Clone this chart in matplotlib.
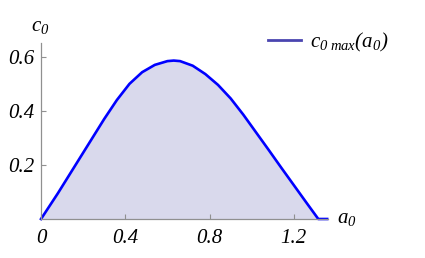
import matplotlib
matplotlib.use('Agg')
import matplotlib.pyplot as plt

# values
a0 = [0, 0.08, 0.16, 0.24, 0.30, 0.36, 0.42, 0.48, 0.54, 0.60, 0.63, 0.66,
      0.72, 0.78, 0.84, 0.90, 0.96, 1.02, 1.08, 1.14, 1.20, 1.26, 1.316, 1.358]
c0 = [0, 0.095, 0.195, 0.295, 0.37, 0.44, 0.50, 0.543, 0.570, 0.584, 0.586, 0.584,
      0.567, 0.536, 0.496, 0.446, 0.386, 0.321, 0.256, 0.19, 0.125, 0.06, 0, 0]
xticks = [0, 0.4, 0.8, 1.2]
xticklabels = ['0', '0.4', '0.8', '1.2']
yticks = [0.2, 0.4, 0.6]
yticklabels = ['0.2', '0.4', '0.6']

plt.rcParams['mathtext.fontset'] = 'custom'
plt.rcParams['mathtext.rm'] = 'Liberation Serif:italic'
plt.rcParams['mathtext.it'] = 'Liberation Serif:italic'
plt.rcParams['font.family'] = 'Liberation Serif'
plt.rcParams['font.style'] = 'italic'

fig = plt.figure(figsize=(4.25, 2.58), dpi=100)
ax = fig.add_axes([41/425, 39/258, 287/425, 176/258])

ax.fill_between(a0, c0, 0, color='#d9d9ec', lw=0)
ax.plot(a0, c0, color='#0000ff', lw=1.9, solid_joinstyle='round', clip_on=False)

ax.set_xlim(0, 1.362)
ax.set_ylim(0, 0.651)
for s in ['top', 'right']:
    ax.spines[s].set_visible(False)
for s in ['left', 'bottom']:
    ax.spines[s].set_color('#909090')
    ax.spines[s].set_linewidth(0.9)

ax.set_xticks(xticks)
ax.set_xticklabels(xticklabels)
ax.set_yticks(yticks)
ax.set_yticklabels(yticklabels)
ax.tick_params(direction='in', length=3.5, width=0.8, color='#909090',
               labelsize=15)
ax.tick_params(axis='x', pad=7)
ax.tick_params(axis='y', pad=5)

fig.text(40/425, 1 - 27/258, r'$c_0$', fontsize=15, ha='center', va='center')
fig.text(337/425, 1 - 218/258, r'$a_0$', fontsize=15, ha='left', va='center')

fig.legend([plt.Line2D([], [], color='#4a45b0', lw=2.0)],
           [r'$c_{0\ max}(a_0)$'],
           loc='center left', bbox_to_anchor=(268/425, 1 - 42/258),
           frameon=False, fontsize=15, borderpad=0, borderaxespad=0,
           handlelength=1.6, handletextpad=0.4)

fig.savefig('out.png', dpi=100)
